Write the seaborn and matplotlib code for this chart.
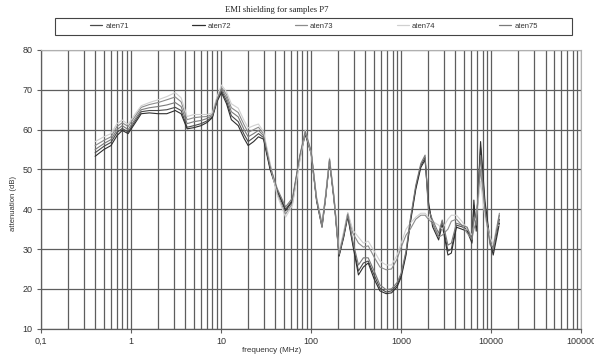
import matplotlib
matplotlib.use("Agg")
import matplotlib.pyplot as plt
import matplotlib.ticker as mticker
from matplotlib.patches import Rectangle
import numpy as np
import pandas as pd
import seaborn as sns

# Measurement frequencies (MHz)
freq = [0.4, 0.5, 0.6, 0.7, 0.8, 0.93, 1.1, 1.3, 1.6, 2.0, 2.5, 3.1, 3.6, 4.2,
        5.0, 6.0, 7.0, 8.0, 9.0, 10.1, 11.5, 13, 15.5, 18, 20, 23, 26, 29.6,
        35, 42, 52, 62, 75, 86, 100, 115, 132, 145, 160, 180, 204, 230, 255,
        290, 335, 380, 430, 500, 580, 680, 780, 900, 1000, 1130, 1260, 1450,
        1650, 1840, 2000, 2230, 2600, 2850, 3300, 3600, 4100, 4700, 5400,
        6100, 6400, 6800, 7600, 8500, 9700, 10500, 11500, 12300]

# Attenuation (dB) for each sample
aten71 = [54.2, 55.8, 56.8, 59.3, 60.3, 59.4, 62.0, 64.5, 64.8, 64.8, 65.0,
          65.6, 64.8, 60.6, 61.0, 61.5, 62.2, 63.2, 67.3, 69.8, 67.2, 63.5,
          62.0, 58.8, 57.0, 58.0, 59.0, 58.0, 50.4, 44.8, 40.0, 42.3, 53.3,
          59.2, 54.3, 42.3, 35.8, 43.3, 52.3, 42.3, 28.4, 33.3, 38.5, 31.5,
          24.5, 26.5, 27.0, 23.5, 20.2, 19.2, 19.5, 21.0, 23.5, 29.0, 37.0,
          45.5, 51.0, 53.0, 41.0, 36.5, 33.0, 37.0, 29.5, 30.0, 36.0, 35.6,
          35.0, 32.0, 41.0, 35.5, 55.5, 41.0, 31.5, 29.5, 34.0, 37.5]
aten72 = [53.3, 55.0, 56.0, 58.5, 59.8, 59.0, 61.5, 64.0, 64.2, 64.0, 64.0,
          64.8, 64.0, 60.2, 60.5, 61.0, 61.8, 63.0, 67.0, 69.3, 66.5, 62.5,
          61.0, 57.8, 56.0, 57.0, 58.2, 57.6, 50.0, 44.5, 39.6, 42.0, 53.0,
          58.8, 54.0, 42.0, 35.5, 43.0, 52.0, 42.0, 28.2, 33.0, 38.2, 31.0,
          23.5, 25.5, 26.5, 22.5, 19.5, 18.8, 19.0, 20.5, 23.0, 28.5, 36.5,
          45.0, 50.5, 52.4, 42.0, 35.6, 32.3, 36.0, 28.5, 29.0, 35.5, 35.0,
          34.5, 31.5, 42.3, 34.5, 57.0, 42.0, 32.0, 28.5, 33.0, 36.5]
aten73 = [56.0, 57.3, 58.2, 60.8, 61.7, 60.8, 63.2, 65.6, 66.3, 66.8, 67.5,
          68.2, 67.0, 62.5, 63.0, 63.2, 63.3, 63.8, 67.8, 70.6, 68.8, 65.5,
          64.3, 61.2, 59.3, 60.0, 60.6, 59.0, 51.2, 44.0, 38.8, 41.5, 52.6,
          59.3, 54.0, 42.5, 35.5, 43.3, 52.3, 42.5, 28.8, 34.0, 39.0, 34.0,
          31.5, 30.5, 30.8, 28.0, 25.5, 24.8, 25.0, 27.5, 30.5, 33.5, 35.0,
          37.5, 38.5, 38.5, 37.5, 36.5, 33.0, 33.5, 35.0, 37.0, 37.5, 36.0,
          34.0, 32.5, 35.0, 37.0, 50.0, 39.0, 32.0, 30.0, 35.5, 39.0]
aten74 = [57.0, 58.2, 59.0, 61.5, 62.4, 61.3, 63.8, 66.0, 66.8, 67.5, 68.3,
          69.3, 68.0, 63.3, 63.8, 63.8, 63.8, 64.2, 68.2, 71.2, 69.5, 66.5,
          65.4, 62.3, 60.4, 61.0, 61.4, 59.5, 51.6, 43.5, 38.0, 41.0, 52.2,
          59.9, 54.3, 43.0, 36.5, 43.8, 52.9, 43.0, 29.2, 34.5, 39.2, 34.8,
          33.0, 31.5, 32.0, 29.5, 27.0, 26.0, 26.0, 28.5, 31.5, 35.0, 36.5,
          38.0, 39.0, 39.0, 38.0, 37.0, 36.0, 35.0, 37.5, 38.5, 38.5, 37.0,
          35.0, 33.5, 36.0, 38.0, 47.0, 38.0, 33.0, 31.0, 36.0, 36.0]
aten75 = [55.0, 56.5, 57.5, 60.0, 61.0, 60.0, 62.5, 65.0, 65.5, 65.8, 66.2,
          66.8, 65.8, 61.5, 62.0, 62.3, 62.8, 63.5, 67.5, 70.2, 68.0, 64.5,
          63.2, 60.0, 58.2, 59.0, 59.8, 58.5, 50.8, 45.2, 40.6, 42.8, 53.6,
          59.6, 54.6, 42.7, 36.2, 43.6, 52.6, 42.7, 28.7, 33.6, 38.8, 32.0,
          26.0, 27.8, 27.8, 24.5, 21.0, 19.8, 20.0, 21.6, 24.0, 29.5, 37.5,
          46.0, 51.5, 53.6, 40.0, 37.3, 34.0, 37.3, 31.0, 31.5, 36.5, 36.0,
          35.5, 32.3, 38.0, 36.0, 53.5, 40.0, 31.0, 30.5, 35.0, 38.5]

samples = ["aten71", "aten72", "aten73", "aten74", "aten75"]
series = [aten71, aten72, aten73, aten74, aten75]
colors = ["#4a4a4a", "#2e2e2e", "#8c8c8c", "#d0d0d0", "#7a7a7a"]

x_ticks = [0.1, 1, 10, 100, 1000, 10000, 100000]
x_tick_labels = ["0,1", "1", "10", "100", "1000", "10000", "100000"]
y_ticks = [10, 20, 30, 40, 50, 60, 70, 80]

df = pd.concat(
    [pd.DataFrame({"frequency": freq, "attenuation": vals, "sample": name})
     for name, vals in zip(samples, series)],
    ignore_index=True,
)

sns.set_style("white")
plt.rcParams["font.family"] = ["Liberation Sans", "DejaVu Sans"]

W, H = 594, 358
fig = plt.figure(figsize=(W / 100, H / 100), dpi=100)
ax = fig.add_axes([40.9 / W, 1 - 328.7 / H, (581.4 - 40.9) / W, (328.7 - 50) / H])

sns.lineplot(data=df, x="frequency", y="attenuation", hue="sample",
             hue_order=samples, palette=dict(zip(samples, colors)),
             linewidth=0.8, ax=ax, sort=True, estimator=None)

ax.set_xscale("log")
ax.set_xlim(0.1, 100000)
ax.set_ylim(10, 80)
ax.xaxis.set_major_locator(mticker.FixedLocator(x_ticks))
ax.xaxis.set_major_formatter(mticker.FixedFormatter(x_tick_labels))
ax.xaxis.set_minor_locator(mticker.LogLocator(base=10, subs=np.arange(2, 10), numticks=20))
ax.xaxis.set_minor_formatter(mticker.NullFormatter())
ax.set_yticks(y_ticks)

grid_col = "#5e5e5e"
ax.grid(True, which="major", axis="both", color=grid_col, linewidth=0.9)
ax.grid(True, which="minor", axis="x", color=grid_col, linewidth=0.9)
ax.set_axisbelow(True)
for side in ["left", "bottom"]:
    ax.spines[side].set_color("#5e5e5e")
    ax.spines[side].set_linewidth(0.9)
for side in ["top", "right"]:
    ax.spines[side].set_color("#b0b0b0")
    ax.spines[side].set_linewidth(0.8)

ax.tick_params(axis="both", which="major", length=3, width=0.8, color="#5e5e5e",
               labelsize=6.5, labelcolor="#333333", pad=3, direction="out",
               bottom=True, left=True)
ax.tick_params(axis="x", which="minor", length=0)

ax.set_xlabel("")
ax.set_ylabel("attenuation (dB)", fontsize=5.5, color="#333333")
ax.yaxis.set_label_coords((17 - 40.9) / (581.4 - 40.9), 0.45)
fig.text(272 / W, 1 - 350 / H, "frequency (MHz)", fontsize=5.8, color="#333333",
         ha="center", va="center")

fig.text(277 / W, 1 - 10.5 / H, "EMI shielding for samples P7",
         family=["Liberation Serif", "DejaVu Serif"], fontsize=6.2,
         color="#222222", ha="center", va="center")

# Legend: entries spread evenly inside a framed strip above the plot
handles, labels = ax.get_legend_handles_labels()
ax.get_legend().remove()
fig.patches.append(Rectangle((55 / W, 1 - 35 / H), (572 - 55) / W, 17 / H,
                             transform=fig.transFigure, fill=False,
                             edgecolor="#444444", linewidth=0.8))
leg = fig.legend(handles, labels, ncol=5, loc="center",
                 bbox_to_anchor=(314 / W, 1 - 26.5 / H),
                 bbox_transform=fig.transFigure,
                 fontsize=5.5, frameon=False, handlelength=1.6,
                 handletextpad=0.4, columnspacing=8.3, borderaxespad=0,
                 borderpad=0)
for t in leg.get_texts():
    t.set_color("#333333")
for lh in leg.get_lines():
    lh.set_linewidth(0.9)

fig.savefig("out.png", dpi=100, facecolor="white")
